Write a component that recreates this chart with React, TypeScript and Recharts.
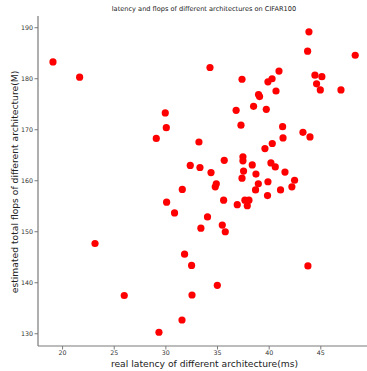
import React from "react";
import { ScatterChart, Scatter, XAxis, YAxis } from "recharts";

const latency: number[] = [
  19.07, 21.65, 29.94, 30.04, 29.07, 33.2, 32.36, 33.3, 43.85, 43.72,
  48.33, 34.27, 40.95, 44.43, 45.1, 37.37, 40.28, 39.88, 44.59, 44.95,
  46.95, 40.66, 38.97, 39.07, 38.49, 39.72, 36.8, 37.27, 41.3, 43.27,
  43.95, 41.34, 40.3, 39.59, 35.65, 37.46, 37.46, 38.36, 40.17, 40.59,
  34.37, 37.52, 38.72, 41.53, 37.37, 39.88, 42.46, 38.95, 34.88, 34.78,
  42.2, 38.68, 41.1, 39.84, 35.59, 37.65, 38.04, 36.91, 37.88, 34.03,
  33.39, 35.46, 35.75, 32.49, 43.75, 34.98, 32.53, 31.59, 30.07, 30.84,
  23.14, 31.81, 25.97, 31.56, 29.33,
];

const flops: number[] = [
  183.3, 180.3, 173.3, 170.4, 168.3, 167.6, 163.0, 162.6, 189.2, 185.4,
  184.6, 182.2, 181.5, 180.7, 180.4, 179.9, 180.0, 179.4, 179.0, 177.8,
  177.8, 177.6, 176.9, 176.5, 174.6, 174.0, 173.8, 170.9, 170.6, 169.5,
  168.6, 168.4, 167.3, 166.3, 164.0, 164.7, 163.9, 163.1, 163.5, 162.7,
  161.6, 161.9, 161.3, 161.7, 160.5, 159.8, 160.1, 159.4, 159.4, 158.8,
  158.8, 158.2, 158.2, 157.1, 156.2, 156.2, 156.2, 155.3, 155.1, 152.9,
  150.7, 151.3, 150.0, 143.4, 143.3, 139.5, 137.6, 158.3, 155.8, 153.7,
  147.7, 145.6, 137.5, 132.7, 130.3,
];

const xTicks: number[] = [20, 25, 30, 35, 40, 45];
const yTicks: number[] = [130, 140, 150, 160, 170, 180, 190];

const title = "latency and flops of different architectures on CIFAR100";
const xLabel = "real latency of different architecture(ms)";
const yLabel = "estimated total flops of different architecture(M)";

const data = latency.map((x, i) => ({ x, y: flops[i] }));

const FONT = "'DejaVu Sans', sans-serif";
const AXIS = "#7a7a7a";

const Dot = (props: any) => {
  const { cx, cy } = props;
  if (cx == null || cy == null) return null;
  return <circle cx={cx} cy={cy} r={3.6} fill="#ff0000" />;
};

export default function App() {
  return (
    <div style={{ position: "absolute", left: 0, top: 0, width: 367, height: 371, background: "#fff" }}>
      <div
        style={{
          position: "absolute",
          left: 0,
          width: 408,
          top: 5,
          textAlign: "center",
          fontFamily: FONT,
          fontSize: 6.6,
          color: "#222",
          lineHeight: "8px",
          whiteSpace: "nowrap",
        }}
      >
        {title}
      </div>
      <ScatterChart
        width={367}
        height={371}
        margin={{ top: 16, right: 0, bottom: 0, left: 0 }}
      >
        <XAxis
          xAxisId="top"
          orientation="top"
          type="number"
          dataKey="x"
          domain={[17.62, 49.47]}
          allowDataOverflow
          height={0}
          tick={false}
          tickLine={false}
          axisLine={{ stroke: AXIS, strokeWidth: 1.2 }}
        />
        <XAxis
          type="number"
          dataKey="x"
          domain={[17.62, 49.47]}
          allowDataOverflow
          ticks={xTicks}
          height={25}
          tickSize={3.5}
          tickMargin={1.5}
          tick={{ fontSize: 6.3, fill: "#333", fontFamily: FONT }}
          tickLine={{ stroke: AXIS }}
          axisLine={{ stroke: AXIS, strokeWidth: 1.2 }}
          label={{
            content: (p: any) => {
              const vb = p.viewBox || {};
              return (
                <text
                  x={vb.x + vb.width / 2 + 2}
                  y={vb.y + 17}
                  textAnchor="middle"
                  dominantBaseline="central"
                  fontFamily={FONT}
                  fontSize={9.2}
                  fill="#222"
                >
                  {xLabel}
                </text>
              );
            },
          }}
        />
        <YAxis
          type="number"
          dataKey="y"
          domain={[127.6, 192.3]}
          allowDataOverflow
          ticks={yTicks}
          width={38}
          tickSize={3.5}
          tickMargin={1.5}
          tick={{ fontSize: 6.3, fill: "#333", fontFamily: FONT }}
          tickLine={{ stroke: AXIS }}
          axisLine={{ stroke: AXIS, strokeWidth: 1.2 }}
          label={{
            content: (p: any) => {
              const vb = p.viewBox || {};
              const cx = 14;
              const cy = vb.y + vb.height / 2 + 1;
              return (
                <text
                  x={cx}
                  y={cy}
                  transform={`rotate(-90, ${cx}, ${cy})`}
                  textAnchor="middle"
                  dominantBaseline="central"
                  fontFamily={FONT}
                  fontSize={9.2}
                  fill="#222"
                >
                  {yLabel}
                </text>
              );
            },
          }}
        />
        <Scatter data={data} shape={Dot} isAnimationActive={false} />
      </ScatterChart>
    </div>
  );
}
